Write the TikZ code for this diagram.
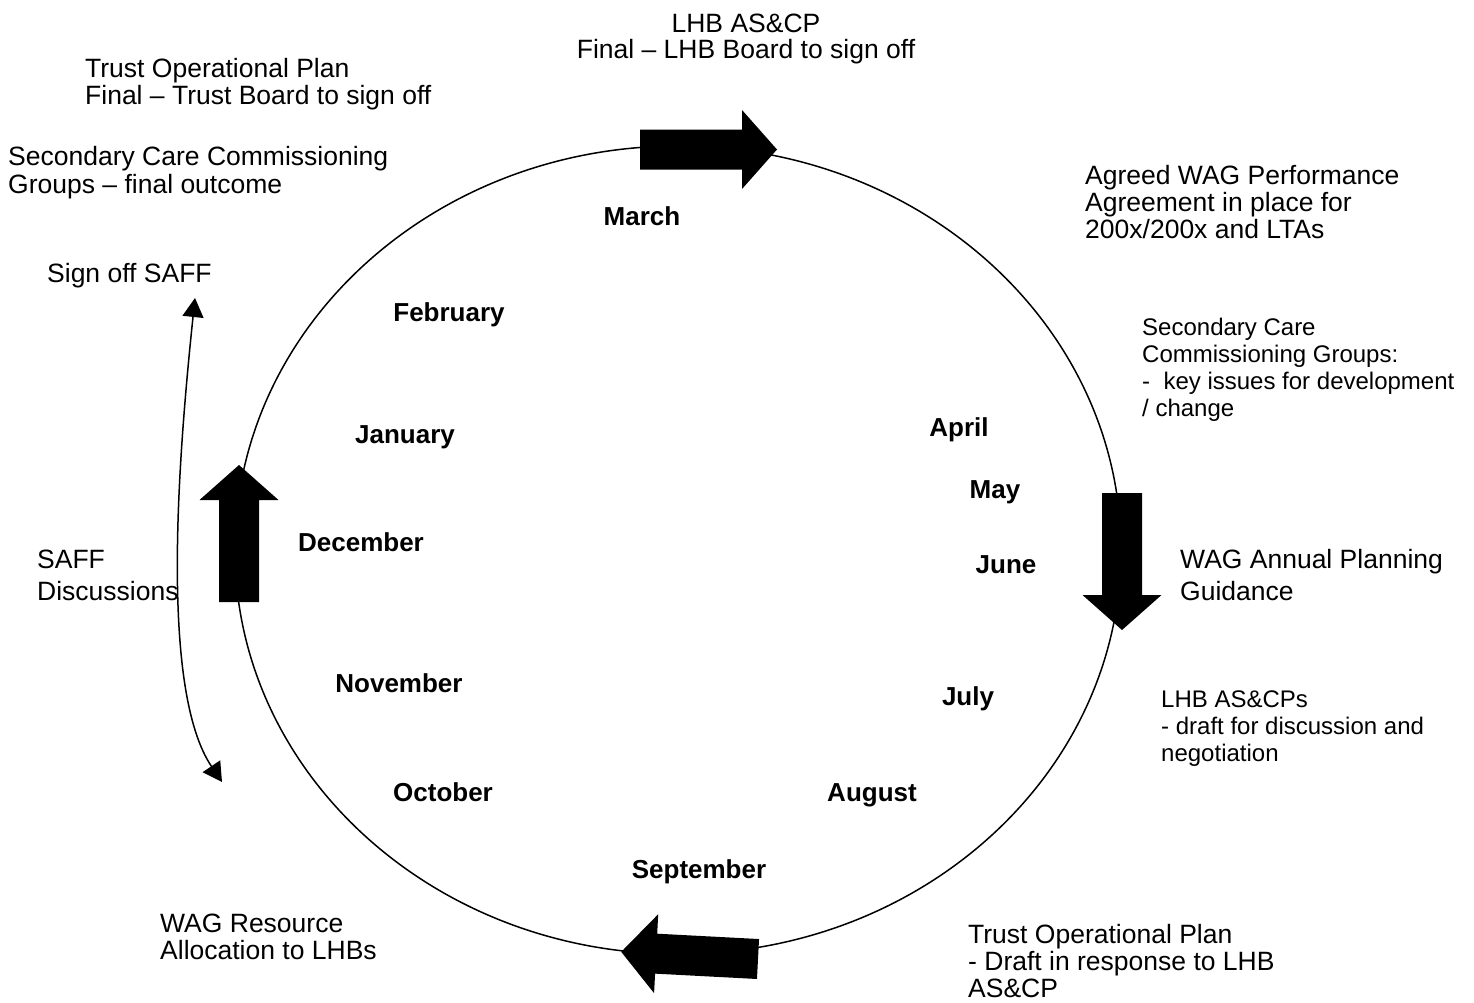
\documentclass[tikz,border=0pt]{standalone}
\usepackage{fontspec}
\setmainfont{Liberation Sans}
\usetikzlibrary{arrows.meta}
% left- (or centre-) aligned block of lines whose baseline is the first line
\newcommand{\txtblock}[2][l]{\begin{tabular}[t]{@{}#1@{}}#2\end{tabular}}

\begin{document}
\begin{tikzpicture}[x=1pt,y=-1pt,
  note/.style={anchor=base west, inner sep=0pt, font=\fontsize{26.5}{27}\selectfont},
  smallnote/.style={note, font=\fontsize{24}{27}\selectfont},
  month/.style={anchor=base, inner sep=0pt, font=\fontsize{26}{27}\selectfont\bfseries},
  ring/.style={line width=1.5pt},
  link/.style={line width=1.5pt, {Triangle[length=19pt,width=21pt]}-{Triangle[length=19pt,width=21pt]}},
  bigarrow/.pic={\fill[black] (0,-20) -- (102,-20) -- (102,-39.5) -- (137,0)
                  -- (102,39.5) -- (102,20) -- (0,20) -- cycle;}
]
\fill[white] (0,0) rectangle (1474,1002);
\useasboundingbox (0,0) rectangle (1474,1002);

% the planning year
\draw[ring] (678,550) ellipse [x radius=443pt, y radius=404pt];

% quarter arrows on the ring
\pic at (640,149.5) {bigarrow};
\pic[rotate=-90] at (1122,493) {bigarrow};
\pic[rotate=177] at (758,959) {bigarrow};
\pic[rotate=90] at (239,602) {bigarrow};

% months
\node[month] (mar) at (642,225) {March};
\node[month] (feb) at (449,321) {February};
\node[month] (jan) at (405,443) {January};
\node[month] (dec) at (361,551) {December};
\node[month] (nov) at (399,692) {November};
\node[month] (oct) at (443,801) {October};
\node[month] (sep) at (699,878) {September};
\node[month] (aug) at (872,801) {August};
\node[month] (jul) at (968,705) {July};
\node[month] (jun) at (1006,573) {June};
\node[month] (may) at (995,498) {May};
\node[month] (apr) at (959,436) {April};

% milestones around the year
\node[note, anchor=base, font=\fontsize{26.5}{25}\selectfont] (lhbFinal) at (746,32)
  {\txtblock[c]{LHB AS\&CP\\Final – LHB Board to sign off}};
\node[note] (trustFinal) at (85,77)
  {\txtblock{Trust Operational Plan\\Final – Trust Board to sign off}};
\node[note, font=\fontsize{26.5}{28}\selectfont] (sccFinal) at (8,165)
  {\txtblock{Secondary Care Commissioning\\Groups – final outcome}};
\node[note] (signSaff) at (47,282) {Sign off SAFF};
\node[note, font=\fontsize{26.5}{32}\selectfont] (saffDisc) at (37,568)
  {\txtblock{SAFF\\Discussions}};
\node[note] (wagRes) at (160,932)
  {\txtblock{WAG Resource\\Allocation to LHBs}};
\node[note] (trustDraft) at (968,943)
  {\txtblock{Trust Operational Plan\\- Draft in response to LHB\\AS\&CP}};
\node[smallnote] (lhbDraft) at (1161,707)
  {\txtblock{LHB AS\&CPs\\- draft for discussion and\\negotiation}};
\node[note, font=\fontsize{26.5}{32}\selectfont] (wagGuide) at (1180,568)
  {\txtblock{WAG Annual Planning\\Guidance}};
\node[smallnote] (sccIssues) at (1142,335)
  {\txtblock{Secondary Care\\Commissioning Groups:\\-~~key issues for development\\/ change}};
\node[note] (wagAgree) at (1085,184)
  {\txtblock{Agreed WAG Performance\\Agreement in place for\\200x/200x and LTAs}};

% SAFF discussion span
\coordinate (saffTop) at (195,298);
\coordinate (saffEnd) at (222,782);
\draw[link] (saffTop) .. controls (178,460) and (160,690) .. (saffEnd);
\end{tikzpicture}
\end{document}
